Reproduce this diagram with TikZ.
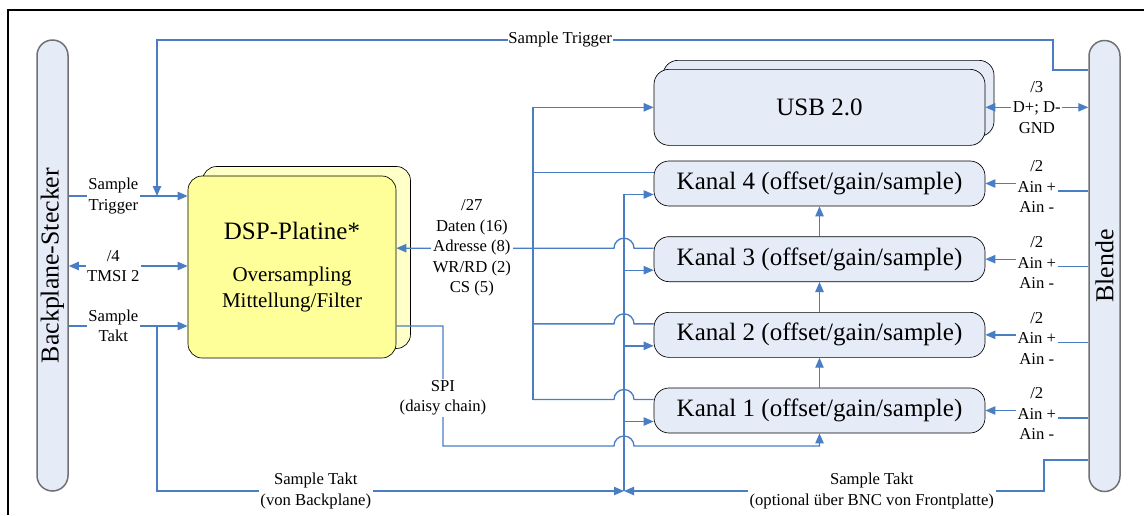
\documentclass[tikz,border=0pt]{standalone}
\usepackage{fontspec}
\setmainfont{Liberation Serif}
\usetikzlibrary{arrows.meta, positioning, calc, shadows}

\definecolor{wireblue}{HTML}{4A7EC4}
\definecolor{boxfill}{HTML}{E6ECF7}
\definecolor{pillline}{HTML}{707070}
\definecolor{dspfill}{HTML}{FFFF99}
\definecolor{dspshade}{HTML}{FFFFC8}

\begin{document}
\begin{tikzpicture}[
	x=0.6pt, y=-0.6pt,
	kanal/.style={draw, rounded corners=9pt, fill=boxfill, minimum width=198.6pt, minimum height=27pt, font=\fontsize{15}{18}\selectfont},
	usbbox/.style={kanal, minimum height=45.6pt, copy shadow={shadow xshift=5.4pt, shadow yshift=5.4pt, fill=boxfill, draw=black}},
	dspbox/.style={draw, rounded corners=8.5pt, fill=dspfill, align=center, minimum width=124.8pt, minimum height=109.2pt, font=\fontsize{12.6}{15.6}\selectfont, copy shadow={shadow xshift=8.7pt, shadow yshift=5.7pt, fill=dspshade, draw=black}},
	pill/.style={draw=pillline, line width=0.9pt, fill=boxfill, rounded corners=9.3pt, minimum width=18.6pt, minimum height=270.6pt},
	lbl/.style={fill=white, inner sep=1pt, align=center, font=\fontsize{10}{12.3}\selectfont},
	wire/.style={draw=wireblue, line width=0.8pt},
	arrow/.style={wire, -{Triangle[length=6pt, width=5pt]}},
	dblarrow/.style={wire, {Triangle[length=6pt, width=5pt]}-{Triangle[length=6pt, width=5pt]}},
	node distance=18pt
	]
	\useasboundingbox (0,0) rectangle (1144,515);
	\draw[line width=1pt] (8,515) -- (8,10) -- (1144,10);

	% --- Stecker / Blende ---
	\node[pill] (bp) at (52.5,265.5) {};
	\node[rotate=90, font=\fontsize{15.5}{18}\selectfont] at (bp) {Backplane-Stecker};
	\node[pill] (bl) at (1104.5,266) {};
	\node[rotate=90, font=\fontsize{15.5}{18}\selectfont] at (bl) {Blende};

	% --- DSP ---
	\node[dspbox] (dsp) at (292,267) {{\fontsize{15}{18}\selectfont DSP-Platine*}\\[9.5pt]Oversampling\\Mittellung/Filter};

	% --- Kanaele + USB ---
	\node[kanal] (kanal4) at (819.5,183.5) {Kanal 4 (offset/gain/sample)};
	\node[kanal, below=of kanal4] (kanal3) {Kanal 3 (offset/gain/sample)};
	\node[kanal, below=of kanal3] (kanal2) {Kanal 2 (offset/gain/sample)};
	\node[kanal, below=of kanal2] (kanal1) {Kanal 1 (offset/gain/sample)};
	\node[usbbox, above=9pt of kanal4] (usb) {USB 2.0};

	% --- Bus-Punkte ---
	\coordinate (dbus) at (533,0);
	\coordinate (tbus) at (624,491);
	\coordinate (k4d) at ([yshift=6.6pt]kanal4.west);
	\coordinate (k3d) at ([yshift=6.6pt]kanal3.west);
	\coordinate (k2d) at ([yshift=6.6pt]kanal2.west);
	\coordinate (k1d) at ([yshift=6.6pt]kanal1.west);
	\coordinate (k4t) at ([yshift=-6.6pt]kanal4.west);
	\coordinate (k3t) at ([yshift=-6.6pt]kanal3.west);
	\coordinate (k2t) at ([yshift=-6.6pt]kanal2.west);
	\coordinate (k1t) at ([yshift=-6.6pt]kanal1.west);

	% --- Backplane -> DSP ---
	\draw[arrow] (bp.east |- 0,196) -- node[lbl, pos=.375] {Sample\\Trigger} (dsp.west |- 0,196);
	\draw[dblarrow] (bp.east |- 0,266) -- node[lbl, pos=.375] {/4\\TMSI 2} (dsp.west |- 0,266);
	\draw[arrow] (bp.east |- 0,326) -- node[lbl, pos=.375] {Sample\\Takt} (dsp.west |- 0,326);

	% --- Sample Trigger von der Blende ---
	\draw[arrow] (bl.west |- 0,70) -| (1053,40) -| node[lbl, pos=.275, inner sep=0.5pt] {Sample Trigger} (157,196);

	% --- Sample Takt ---
	\draw[arrow] (157,326) |- node[lbl, pos=.67] {Sample Takt\\(von Backplane)} (tbus);
	\draw[arrow] (bl.west |- 0,460) -| (1044,491) -- node[lbl, pos=.41] {Sample Takt\\(optional über BNC von Frontplatte)} (tbus);
	\draw[arrow] (tbus) -- (tbus |- k4t) -- (k4t);
	\draw[arrow] (tbus |- k3t) -- (k3t);
	\draw[arrow] (tbus |- k2t) -- (k2t);
	\draw[arrow] (tbus |- k1t) -- (k1t);

	% --- Daten/Adressbus ---
	\draw[arrow] (dbus |- k1d) -- (dbus |- usb.west) -- (usb.west);
	\draw[wire] (dbus |- k4d) -- (k4d);
	\draw[wire, {Triangle[length=6pt, width=5pt]}-] (dsp.east |- k3d) -- node[lbl, pos=.347] {/27\\Daten (16)\\Adresse (8)\\WR/RD (2)\\CS (5)} ($(tbus |- k3d)+(-6pt,0pt)$) arc[start angle=180, end angle=0, radius=6pt] -- (k3d);
	\draw[wire] (dbus |- k2d) -- ($(tbus |- k2d)+(-6pt,0pt)$) arc[start angle=180, end angle=0, radius=6pt] -- (k2d);
	\draw[wire] (dbus |- k1d) -- ($(tbus |- k1d)+(-6pt,0pt)$) arc[start angle=180, end angle=0, radius=6pt] -- (k1d);

	% --- SPI daisy chain ---
	\draw[arrow] (dsp.east |- 0,326) -| node[lbl, pos=.8] {SPI\\(daisy chain)} (443,446) -- ($(tbus |- 0,446)+(-6pt,0pt)$) arc[start angle=180, end angle=0, radius=6pt] -| (kanal1.south);
	\draw[arrow] (kanal1) -- (kanal2);
	\draw[arrow] (kanal2) -- (kanal3);
	\draw[arrow] (kanal3) -- (kanal4);

	% --- USB <-> Blende ---
	\draw[dblarrow] (usb.east) -- node[lbl] {/3\\D+; D-\\GND} (bl.west |- usb.east);

	% --- Analogeingaenge ---
	\node[lbl] (ain4) at ($(kanal4.east)!.5!(bl.west |- kanal4.east)+(0pt,-2pt)$) {/2\\Ain +\\Ain -};
	\node[lbl] (ain3) at ($(kanal3.east)!.5!(bl.west |- kanal3.east)+(0pt,-2pt)$) {/2\\Ain +\\Ain -};
	\node[lbl] (ain2) at ($(kanal2.east)!.5!(bl.west |- kanal2.east)+(0pt,-2pt)$) {/2\\Ain +\\Ain -};
	\node[lbl] (ain1) at ($(kanal1.east)!.5!(bl.west |- kanal1.east)+(0pt,-2pt)$) {/2\\Ain +\\Ain -};
	\coordinate (ain4r) at ([yshift=-2.4pt]ain4.east);
	\coordinate (ain3r) at ([yshift=-2.4pt]ain3.east);
	\coordinate (ain2r) at ([yshift=-2.4pt]ain2.east);
	\coordinate (ain1r) at ([yshift=-2.4pt]ain1.east);
	\draw[arrow] (ain4.west |- kanal4.east) -- (kanal4.east);
	\draw[arrow] (ain3.west |- kanal3.east) -- (kanal3.east);
	\draw[arrow] (ain2.west |- kanal2.east) -- (kanal2.east);
	\draw[arrow] (ain1.west |- kanal1.east) -- (kanal1.east);
	\draw[wire] (ain4r -| bl.west) -- (ain4r);
	\draw[wire] (ain3r -| bl.west) -- (ain3r);
	\draw[wire] (ain2r -| bl.west) -- (ain2r);
	\draw[wire] (ain1r -| bl.west) -- (ain1r);
\end{tikzpicture}
\end{document}
